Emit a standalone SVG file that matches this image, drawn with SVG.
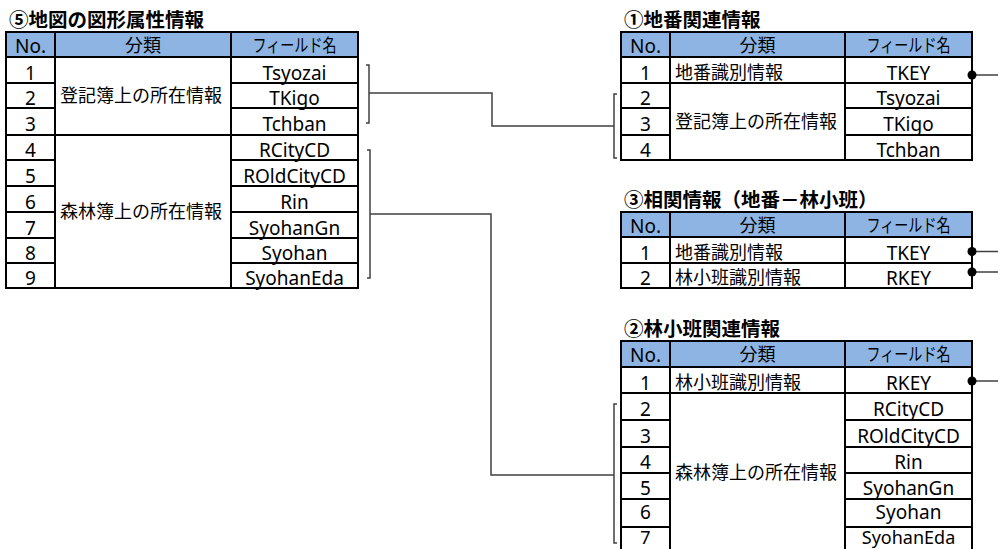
<svg xmlns="http://www.w3.org/2000/svg" width="998" height="549" viewBox="0 0 998 549">
<style>
.hd{fill:#8DB4E2;stroke:#000;stroke-width:2}
.c{fill:#fff;stroke:#000;stroke-width:2}
.t{font-family:"Noto Sans","Noto Sans CJK JP",sans-serif;font-size:19px;fill:#000}
.m{text-anchor:middle}
.j{font-family:"Noto Sans CJK JP",sans-serif;font-size:18px;fill:#000}
.ttl{font-family:"Noto Sans CJK JP",sans-serif;font-size:19.5px;font-weight:bold;fill:#000}
.ln{fill:none;stroke:#404040;stroke-width:1.5}
.dot{fill:#000}
</style>
<rect width="998" height="549" fill="#fff"/>

<g id="table5">
<text class="ttl" x="9" y="27">⑤地図の図形属性情報</text>
<rect class="hd" x="6" y="32" width="49" height="25"/>
<rect class="hd" x="55" y="32" width="176" height="25"/>
<rect class="hd" x="231" y="32" width="127" height="25"/>
<text class="t m" x="30.5" y="53">No.</text>
<text class="j m" x="143" y="52">分類</text>
<text class="j m" x="294.5" y="52" textLength="84" lengthAdjust="spacingAndGlyphs">フィールド名</text>
<rect class="c" x="6" y="57" width="49" height="26"/>
<rect class="c" x="6" y="83" width="49" height="25"/>
<rect class="c" x="6" y="108" width="49" height="27"/>
<rect class="c" x="6" y="135" width="49" height="25"/>
<rect class="c" x="6" y="160" width="49" height="26"/>
<rect class="c" x="6" y="186" width="49" height="26"/>
<rect class="c" x="6" y="212" width="49" height="26"/>
<rect class="c" x="6" y="238" width="49" height="25"/>
<rect class="c" x="6" y="263" width="49" height="25"/>
<rect class="c" x="55" y="57" width="176" height="78"/>
<rect class="c" x="55" y="135" width="176" height="153"/>
<rect class="c" x="231" y="57" width="127" height="26"/>
<rect class="c" x="231" y="83" width="127" height="25"/>
<rect class="c" x="231" y="108" width="127" height="27"/>
<rect class="c" x="231" y="135" width="127" height="25"/>
<rect class="c" x="231" y="160" width="127" height="26"/>
<rect class="c" x="231" y="186" width="127" height="26"/>
<rect class="c" x="231" y="212" width="127" height="26"/>
<rect class="c" x="231" y="238" width="127" height="25"/>
<rect class="c" x="231" y="263" width="127" height="25"/>
<text class="t m" x="30.5" y="79.5">1</text>
<text class="t m" x="30.5" y="105">2</text>
<text class="t m" x="30.5" y="131">3</text>
<text class="t m" x="30.5" y="157">4</text>
<text class="t m" x="30.5" y="182.5">5</text>
<text class="t m" x="30.5" y="208.5">6</text>
<text class="t m" x="30.5" y="234.5">7</text>
<text class="t m" x="30.5" y="260">8</text>
<text class="t m" x="30.5" y="285">9</text>
<text class="j" x="60" y="102">登記簿上の所在情報</text>
<text class="j" x="60" y="217.5">森林簿上の所在情報</text>
<text class="t m" x="294.5" y="79.5">Tsyozai</text>
<text class="t m" x="294.5" y="105">TKigo</text>
<text class="t m" x="294.5" y="131">Tchban</text>
<text class="t m" x="294.5" y="157">RCityCD</text>
<text class="t m" x="294.5" y="182.5">ROldCityCD</text>
<text class="t m" x="294.5" y="208.5">Rin</text>
<text class="t m" x="294.5" y="234.5">SyohanGn</text>
<text class="t m" x="294.5" y="260">Syohan</text>
<text class="t m" x="294.5" y="285">SyohanEda</text>
</g>

<g id="table1">
<text class="ttl" x="624" y="27">①地番関連情報</text>
<rect class="hd" x="621" y="32" width="49" height="25"/>
<rect class="hd" x="670" y="32" width="175" height="25"/>
<rect class="hd" x="845" y="32" width="127" height="25"/>
<text class="t m" x="645.5" y="53">No.</text>
<text class="j m" x="757.5" y="52">分類</text>
<text class="j m" x="908.5" y="52" textLength="84" lengthAdjust="spacingAndGlyphs">フィールド名</text>
<rect class="c" x="621" y="57" width="49" height="26"/>
<rect class="c" x="621" y="83" width="49" height="25"/>
<rect class="c" x="621" y="108" width="49" height="27"/>
<rect class="c" x="621" y="135" width="49" height="25"/>
<rect class="c" x="670" y="57" width="175" height="26"/>
<rect class="c" x="670" y="83" width="175" height="77"/>
<rect class="c" x="845" y="57" width="127" height="26"/>
<rect class="c" x="845" y="83" width="127" height="25"/>
<rect class="c" x="845" y="108" width="127" height="27"/>
<rect class="c" x="845" y="135" width="127" height="25"/>
<text class="t m" x="645.5" y="79.5">1</text>
<text class="t m" x="645.5" y="105">2</text>
<text class="t m" x="645.5" y="131">3</text>
<text class="t m" x="645.5" y="157">4</text>
<text class="j" x="675" y="78.5">地番識別情報</text>
<text class="j" x="675" y="127.5">登記簿上の所在情報</text>
<text class="t m" x="908.5" y="79.5">TKEY</text>
<text class="t m" x="908.5" y="105">Tsyozai</text>
<text class="t m" x="908.5" y="131">TKigo</text>
<text class="t m" x="908.5" y="157">Tchban</text>
</g>

<g id="table3">
<text class="ttl" x="624" y="207">③相関情報（地番－林小班）</text>
<rect class="hd" x="621" y="212" width="49" height="25"/>
<rect class="hd" x="670" y="212" width="175" height="25"/>
<rect class="hd" x="845" y="212" width="127" height="25"/>
<text class="t m" x="645.5" y="233">No.</text>
<text class="j m" x="757.5" y="232">分類</text>
<text class="j m" x="908.5" y="232" textLength="84" lengthAdjust="spacingAndGlyphs">フィールド名</text>
<rect class="c" x="621" y="237" width="49" height="26"/>
<rect class="c" x="621" y="263" width="49" height="25"/>
<rect class="c" x="670" y="237" width="175" height="26"/>
<rect class="c" x="670" y="263" width="175" height="25"/>
<rect class="c" x="845" y="237" width="127" height="26"/>
<rect class="c" x="845" y="263" width="127" height="25"/>
<text class="t m" x="645.5" y="259.5">1</text>
<text class="t m" x="645.5" y="285">2</text>
<text class="j" x="675" y="258.5">地番識別情報</text>
<text class="j" x="675" y="284">林小班識別情報</text>
<text class="t m" x="908.5" y="259.5">TKEY</text>
<text class="t m" x="908.5" y="285">RKEY</text>
</g>

<g id="table2">
<text class="ttl" x="624" y="336">②林小班関連情報</text>
<rect class="hd" x="621" y="341" width="49" height="26"/>
<rect class="hd" x="670" y="341" width="175" height="26"/>
<rect class="hd" x="845" y="341" width="127" height="26"/>
<text class="t m" x="645.5" y="362">No.</text>
<text class="j m" x="757.5" y="361">分類</text>
<text class="j m" x="908.5" y="361" textLength="84" lengthAdjust="spacingAndGlyphs">フィールド名</text>
<rect class="c" x="621" y="367" width="49" height="26"/>
<rect class="c" x="621" y="393" width="49" height="27"/>
<rect class="c" x="621" y="420" width="49" height="27"/>
<rect class="c" x="621" y="447" width="49" height="26"/>
<rect class="c" x="621" y="473" width="49" height="26"/>
<rect class="c" x="621" y="499" width="49" height="28"/>
<rect class="c" x="621" y="527" width="49" height="26"/>
<rect class="c" x="670" y="367" width="175" height="26"/>
<rect class="c" x="670" y="393" width="175" height="160"/>
<rect class="c" x="845" y="367" width="127" height="26"/>
<rect class="c" x="845" y="393" width="127" height="27"/>
<rect class="c" x="845" y="420" width="127" height="27"/>
<rect class="c" x="845" y="447" width="127" height="26"/>
<rect class="c" x="845" y="473" width="127" height="26"/>
<rect class="c" x="845" y="499" width="127" height="28"/>
<rect class="c" x="845" y="527" width="127" height="26"/>
<text class="t m" x="645.5" y="389.5">1</text>
<text class="t m" x="645.5" y="415.5">2</text>
<text class="t m" x="645.5" y="442.5">3</text>
<text class="t m" x="645.5" y="469">4</text>
<text class="t m" x="645.5" y="495">5</text>
<text class="t m" x="645.5" y="519">6</text>
<text class="t m" x="645.5" y="544" style="font-size:18px">7</text>
<text class="j" x="675" y="388.5">林小班識別情報</text>
<text class="j" x="675" y="479">森林簿上の所在情報</text>
<text class="t m" x="908.5" y="389.5">RKEY</text>
<text class="t m" x="908.5" y="415.5">RCityCD</text>
<text class="t m" x="908.5" y="442.5">ROldCityCD</text>
<text class="t m" x="908.5" y="469">Rin</text>
<text class="t m" x="908.5" y="495">SyohanGn</text>
<text class="t m" x="908.5" y="519">Syohan</text>
<text class="t m" x="908.5" y="544" style="font-size:18px">SyohanEda</text>
</g>

<g id="connectors">
<path class="ln" d="M366,65 H369 V123 H366"/>
<path class="ln" d="M369,93 H492 V126 H614"/>
<path class="ln" d="M617,94 H614 V158 H617"/>
<path class="ln" d="M367,150 H370 V278 H367"/>
<path class="ln" d="M370,214 H491 V475 H614"/>
<path class="ln" d="M617,404 H614 V543 H617"/>
<path class="ln" d="M972,75 H998"/>
<path class="ln" d="M972,251.5 H998"/>
<path class="ln" d="M972,272 H998"/>
<path class="ln" d="M972,381 H998"/>
<circle class="dot" cx="972" cy="75" r="4.5"/>
<circle class="dot" cx="972" cy="251.5" r="4.5"/>
<circle class="dot" cx="972" cy="272" r="4.5"/>
<circle class="dot" cx="972" cy="381" r="4.5"/>
</g>
</svg>
